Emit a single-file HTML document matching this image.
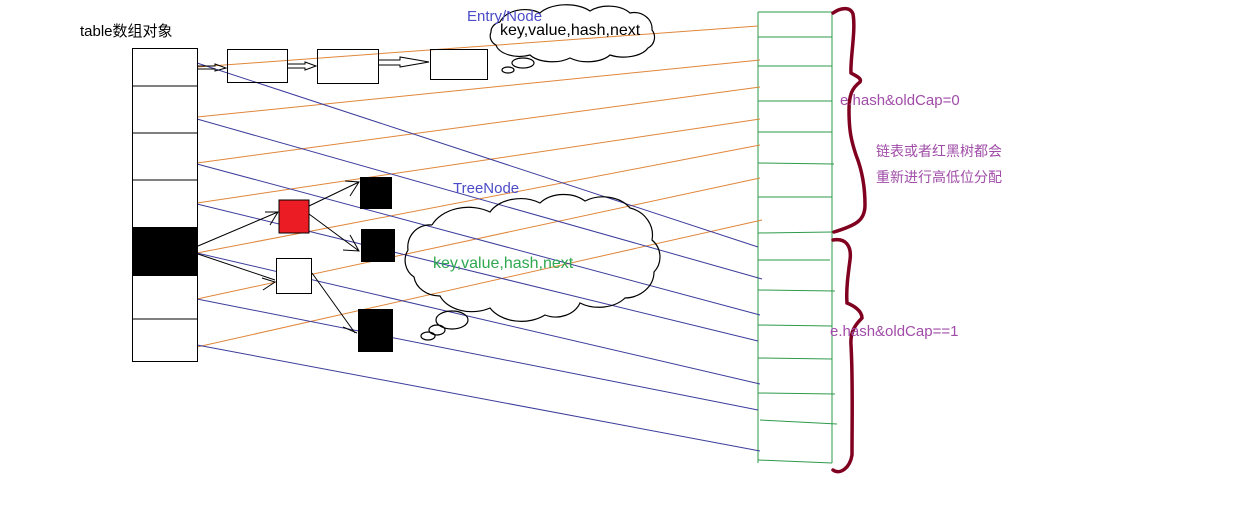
<!DOCTYPE html>
<html><head><meta charset="utf-8"><style>
html,body{margin:0;padding:0;background:#fff;width:1259px;height:510px;overflow:hidden}
svg{display:block}
text{font-family:"Liberation Sans","Noto Sans CJK SC",sans-serif}
</style></head><body>
<svg width="1259" height="510" viewBox="0 0 1259 510" xmlns="http://www.w3.org/2000/svg">
<g stroke="#2e9a4a" stroke-width="1" fill="none">
<line x1="758" y1="12" x2="758" y2="463"/>
<line x1="832" y1="12" x2="832" y2="463"/>
<line x1="758" y1="12" x2="832" y2="12"/>
<line x1="758" y1="37" x2="832" y2="37"/>
<line x1="758" y1="66" x2="832" y2="66"/>
<line x1="758" y1="101" x2="832" y2="101"/>
<line x1="758" y1="132" x2="832" y2="132"/>
<line x1="758" y1="163" x2="834" y2="164"/>
<line x1="758" y1="197" x2="832" y2="197"/>
<line x1="758" y1="233" x2="832" y2="232"/>
<line x1="758" y1="260" x2="830" y2="260"/>
<line x1="758" y1="290" x2="835" y2="291"/>
<line x1="758" y1="325" x2="832" y2="326"/>
<line x1="758" y1="358" x2="832" y2="359"/>
<line x1="758" y1="393" x2="835" y2="394"/>
<line x1="760" y1="420" x2="837" y2="424"/>
<line x1="758" y1="460" x2="832" y2="463"/>
</g>
<g stroke="#e0863a" stroke-width="1">
<line x1="197" y1="67" x2="758" y2="26"/>
<line x1="197" y1="117" x2="760" y2="60"/>
<line x1="197" y1="163" x2="760" y2="87"/>
<line x1="197" y1="203" x2="760" y2="119"/>
<line x1="197" y1="253" x2="760" y2="145"/>
<line x1="197" y1="299" x2="760" y2="178"/>
<line x1="197" y1="347" x2="762" y2="220"/>
</g>
<g stroke="#3c3c9c" stroke-width="1">
<line x1="197" y1="63" x2="758" y2="247"/>
<line x1="197" y1="119" x2="762" y2="279"/>
<line x1="197" y1="164" x2="760" y2="315"/>
<line x1="197" y1="204" x2="758" y2="341"/>
<line x1="197" y1="253" x2="760" y2="384"/>
<line x1="197" y1="299" x2="758" y2="410"/>
<line x1="197" y1="345" x2="760" y2="451"/>
</g>
<g stroke="#000" stroke-width="1" fill="none">
<rect x="132.5" y="48.5" width="65" height="313"/>
<line x1="132" y1="86" x2="197" y2="86"/>
<line x1="132" y1="133" x2="197" y2="133"/>
<line x1="132" y1="180" x2="197" y2="180"/>
<line x1="132" y1="319" x2="197" y2="319"/>
</g>
<rect x="132" y="227" width="66" height="49" fill="#000"/>
<text x="80" y="36" font-size="15" fill="#000">table数组对象</text>
<g stroke="#000" stroke-width="1" fill="none">
<rect x="227.5" y="49.5" width="60" height="33"/>
<rect x="317.5" y="49.5" width="61" height="34"/>
<rect x="430.5" y="49.5" width="57" height="30"/>
<path d="M198 66 L215 66 L215 64 L226 68 L215 71 L215 69 L198 69"/>
<path d="M288 64 L305 64 L305 62 L316 66 L305 70 L305 68 L288 68"/>
<path d="M379 60 L400 60 L400 57 L429 62 L400 67 L400 65 L379 65"/>
</g>
<rect x="279" y="200" width="30" height="33" fill="#ec1c24" stroke="#000"/>
<rect x="360" y="177" width="32" height="32" fill="#000"/>
<rect x="361" y="229" width="34" height="33" fill="#000"/>
<rect x="358" y="309" width="35" height="43" fill="#000"/>
<rect x="276.5" y="258.5" width="35" height="35" fill="#fff" stroke="#000"/>
<g stroke="#000" stroke-width="1" fill="none">
<path d="M198 246 L278 212 M265 212 L278 212 L270 225"/>
<path d="M198 254 L275 280 M262 278 L275 282 L263 290"/>
<path d="M309 206 L359 182 M345 181 L359 182 L350 196"/>
<path d="M309 214 L359 251 M350 235 L359 251 L343 250"/>
<path d="M312 273 L355 333 M357 333 L343 327"/>
</g>
<g stroke="#000" stroke-width="1.2" fill="none">
<path d="M500 22 A26 18 0 0 1 540 13 A30 16 0 0 1 590 11 A26 16 0 0 1 630 13 A18 16 0 0 1 652 30 A12 12 0 0 1 648 48 A26 14 0 0 1 610 55 A26 14 0 0 1 570 58 A26 14 0 0 1 530 55 A24 14 0 0 1 496 45 A10 10 0 0 1 491 32 A12 10 0 0 1 500 22"/>
<ellipse cx="523" cy="63" rx="11" ry="5"/>
<ellipse cx="508" cy="70" rx="6" ry="3"/>
<path d="M432 225 A40 30 0 0 1 490 212 A34 24 0 0 1 540 203 A30 22 0 0 1 585 201 A32 24 0 0 1 630 208 A30 28 0 0 1 652 240 A22 22 0 0 1 654 272 A30 26 0 0 1 625 298 A32 22 0 0 1 580 303 A26 22 0 0 1 545 315 A36 26 0 0 1 490 308 A34 24 0 0 1 440 296 A26 22 0 0 1 414 277 A20 20 0 0 1 408 250 A22 22 0 0 1 432 225"/>
<ellipse cx="452" cy="320" rx="16" ry="9"/>
<ellipse cx="437" cy="330" rx="8" ry="5"/>
<ellipse cx="428" cy="336" rx="7" ry="4"/>
</g>
<text x="467" y="21" font-size="15" fill="#4b4bc8">Entry/Node</text>
<text x="500" y="35" font-size="16" fill="#000">key,value,hash,next</text>
<text x="453" y="193" font-size="15" fill="#4b4bc8">TreeNode</text>
<text x="433" y="268" font-size="16" fill="#2fa84f">key,value,hash,next</text>
<g stroke="#800020" stroke-width="3.5" fill="none" stroke-linecap="round">
<path d="M833 13 C840 8 850 6 853 14 C856 30 850 60 851 73 C856 76 862 78 860 82 C852 88 849 95 849 110 C849 130 851 140 856 155 C862 170 865 185 865 205 C865 220 857 225 834 232"/>
<path d="M833 240 C845 238 852 245 850 260 C848 275 846 290 847 303 C852 305 862 310 862 318 C855 325 850 332 851 345 C853 380 852 420 852 455 C850 468 840 475 833 470"/>
</g>
<text x="840" y="105" font-size="15" fill="#a04ca8">e.hash&amp;oldCap=0</text>
<text x="876" y="156" font-size="14" fill="#a04ca8">链表或者红黑树都会</text>
<text x="876" y="182" font-size="14" fill="#a04ca8">重新进行高低位分配</text>
<text x="830" y="336" font-size="15" fill="#a04ca8">e.hash&amp;oldCap==1</text>
</svg>
</body></html>
